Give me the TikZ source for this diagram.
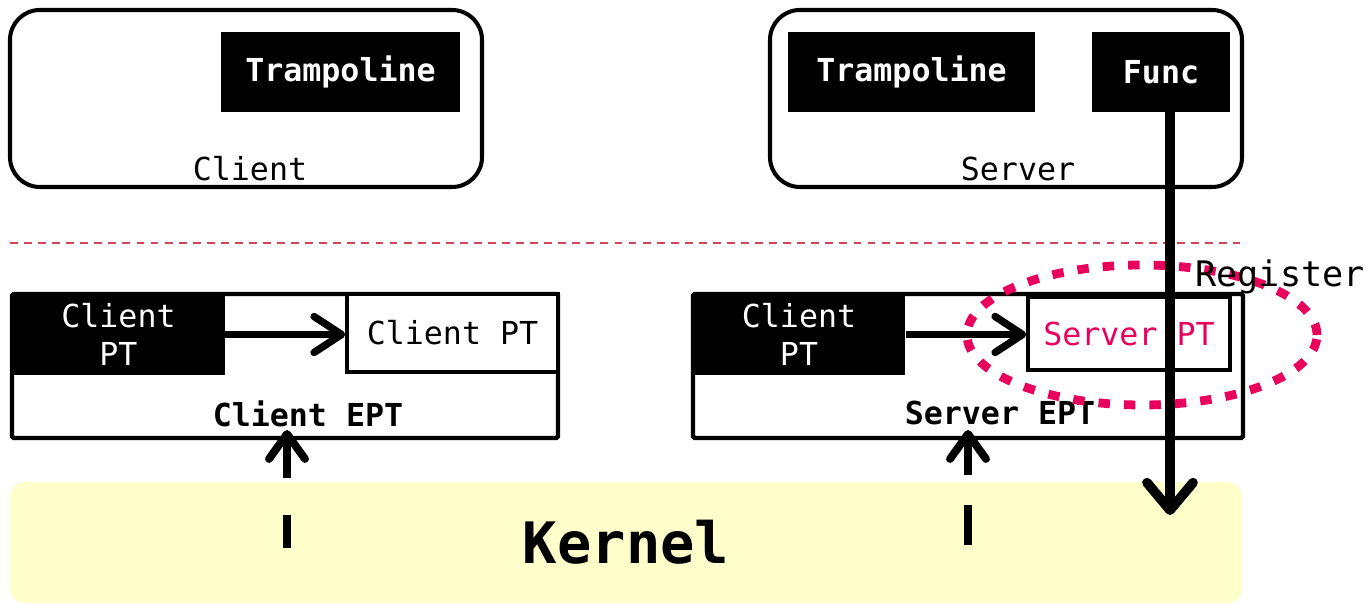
\documentclass[tikz,border=0pt]{standalone}
\usepackage{fontspec}
\setmainfont{DejaVu Sans Mono}
\usetikzlibrary{arrows.meta}
\definecolor{kernelyellow}{RGB}{255,255,204}
\definecolor{regred}{RGB}{232,0,92}
\definecolor{sepred}{RGB}{210,70,90}

\begin{document}
\begin{tikzpicture}[
    txt/.style={font=\fontsize{18}{22}\selectfont, inner sep=0pt},
    procbox/.style={draw, line width=2.3pt, rounded corners=17pt, minimum width=9.44cm, minimum height=3.54cm},
    blackbox/.style={txt, fill=black, text=white, font=\fontsize{18}{22}\selectfont\bfseries, minimum height=1.6cm},
    eptbox/.style={draw, fill=white, line width=2.5pt, rounded corners=1pt, minimum height=2.88cm},
    ptsrc/.style={txt, fill=black, text=white, align=center, minimum width=4.25cm, minimum height=1.62cm},
    ptdst/.style={txt, draw, fill=white, line width=2pt},
    eptname/.style={txt, font=\fontsize{18}{22}\selectfont\bfseries},
    ptarrow/.style={line width=4.2pt, -{Straight Barb[round, length=0.55cm, width=0.72cm]}},
    uparrow/.style={line width=4.5pt, -{Straight Barb[round, length=0.5cm, width=0.72cm]}},
    callarrow/.style={line width=5.5pt, -{Straight Barb[round, length=0.55cm, width=0.92cm]}},
    regring/.style={draw=regred, line width=5pt, dash pattern=on 6.5pt off 8pt},
  ]
  \useasboundingbox (0,0) rectangle (27.4,12.1);

  \node[procbox] (client) at (4.92,10.13) {};
  \node[blackbox, minimum width=4.78cm] (ctramp) at (6.81,10.66) {Trampoline};
  \node[txt] (cname) at (5.0,8.72) {Client};

  \node[procbox] (server) at (20.12,10.13) {};
  \node[blackbox, minimum width=4.94cm] (stramp) at (18.23,10.66) {Trampoline};
  \node[blackbox, minimum width=2.76cm] (func) at (23.22,10.66) {Func};
  \node[txt] (sname) at (20.36,8.72) {Server};

  \draw[sepred, line width=0.6pt, dash pattern=on 4.5pt off 3.5pt] (0.2,7.24) -- (24.8,7.24);

  \node[fill=kernelyellow, rounded corners=8.5pt, minimum width=24.64cm, minimum height=2.42cm,
        font=\fontsize{32.5}{36}\selectfont\bfseries] (kernel) at (12.52,1.25) {Kernel};

  \node[eptbox, minimum width=10.92cm] (cept) at (5.7,4.78) {};
  \node[ptsrc] (cpsrc) at (2.37,5.41) {Client\\PT};
  \node[ptdst, minimum width=4.22cm, minimum height=1.56cm] (cpdst) at (9.05,5.44) {Client PT};
  \node[eptname] (ceptname) at (6.16,3.82) {Client EPT};
  \draw[ptarrow] (cpsrc.east) -- (cpsrc.east -| cpdst.west);

  \node[eptbox, minimum width=11cm] (sept) at (19.36,4.78) {};
  \node[ptsrc] (spsrc) at (15.98,5.41) {Client\\PT};
  \node[ptdst, text=regred, minimum width=4.04cm, minimum height=1.46cm] (spdst) at (22.58,5.43) {Server PT};
  \node[eptname] (septname) at (20.0,3.84) {Server EPT};
  \draw[ptarrow] (spsrc.east) -- (spsrc.east -| spdst.west);

  \coordinate (ckin) at (5.74,1.14);
  \coordinate (cktip) at (5.74,3.5);
  \draw[uparrow, dash pattern=on 18.8pt off 21pt on 60pt off 1pt] (ckin) -- (cktip);
  \coordinate (skin) at (19.36,1.2);
  \coordinate (sktip) at (19.36,3.5);
  \draw[uparrow, dash pattern=on 22.7pt off 17pt on 60pt off 1pt] (skin) -- (sktip);

  \coordinate (ftip) at (23.4,1.8);
  \draw[callarrow] (func.south -| ftip) -- (ftip);

  \coordinate (ring) at (22.84,5.4);
  \draw[regring] (ring) ellipse (3.5cm and 1.4cm);
  \node[txt, font=\fontsize{20}{24}\selectfont, anchor=west] (register) at (23.9,6.56) {Register};
\end{tikzpicture}
\end{document}
